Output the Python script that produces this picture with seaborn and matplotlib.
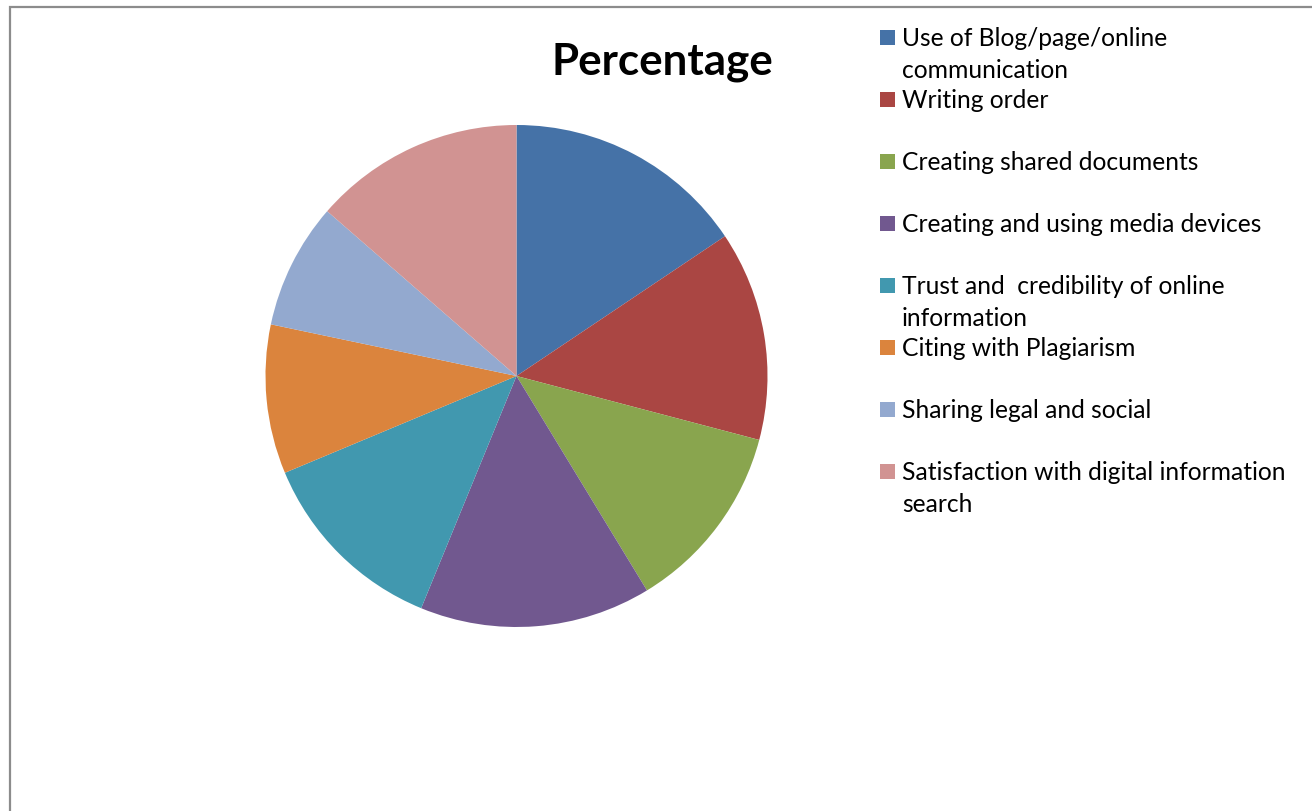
import matplotlib
matplotlib.use("Agg")
import matplotlib.pyplot as plt
from matplotlib.patches import Rectangle
import seaborn as sns

# Survey categories and their share (%)
categories = [
    "Use of Blog/page/online\ncommunication",
    "Writing order",
    "Creating shared documents",
    "Creating and using media devices",
    "Trust and  credibility of online\ninformation",
    "Citing with Plagiarism",
    "Sharing legal and social",
    "Satisfaction with digital information\nsearch",
]
percentages = [15.6, 13.5, 12.2, 14.9, 12.5, 9.6, 8.1, 13.6]
colors = ["#4572A7", "#AA4643", "#89A54E", "#71588F",
          "#4198AF", "#DB843D", "#93A9CF", "#D19392"]
title = "Percentage"

sns.set_theme(style="white")
plt.rcParams["font.family"] = ["Lato", "DejaVu Sans"]

W, H = 1312, 812
fig = plt.figure(figsize=(W / 100, H / 100), dpi=100)
fig.patch.set_facecolor("white")

# pie placed by pixel centre and radius
cx, cy, r = 516.5, 377, 251
ax = fig.add_axes([(cx - r) / W, (H - cy - r) / H, 2 * r / W, 2 * r / H])
ax.pie(percentages, colors=colors, startangle=90, counterclock=False,
       wedgeprops=dict(linewidth=0))
ax.set_xlim(-1, 1)
ax.set_ylim(-1, 1)
ax.set_aspect("equal")
ax.axis("off")

fig.text(662.5 / W, 1 - 74 / H, title, ha="center", va="baseline",
         fontsize=31.7, fontweight="bold", color="black")

# legend: square marker beside the first line of each label
for i, (lab, col) in enumerate(zip(categories, colors)):
    base = 46 + 62 * i
    fig.add_artist(Rectangle((880 / W, 1 - base / H), 15 / W, 15 / H,
                             transform=fig.transFigure, facecolor=col,
                             edgecolor="none"))
    for j, line in enumerate(lab.split("\n")):
        fig.text(902 / W, 1 - (base + 32 * j) / H, line, ha="left",
                 va="baseline", fontsize=17.7, color="black")

# outer chart frame
fig.add_artist(Rectangle((9.5 / W, -0.1), 1.2, 1 - 7.5 / H + 0.1,
                         transform=fig.transFigure, facecolor="none",
                         edgecolor="#8c8c8c", linewidth=1.6))

fig.savefig("out.png", dpi=100)
